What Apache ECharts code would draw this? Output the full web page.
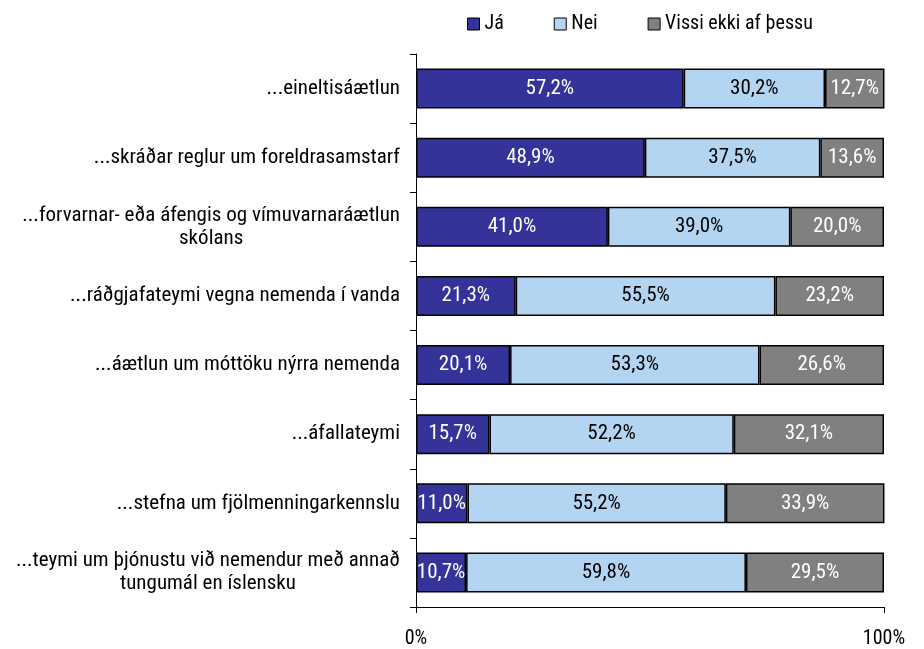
<!DOCTYPE html>
<html>
<head>
<meta charset="utf-8">
<script src="https://cdn.jsdelivr.net/npm/echarts@6/dist/echarts.min.js"></script>
<style>
  html, body { margin: 0; padding: 0; background: #fff; }
  #chart { width: 924px; height: 649px; }
</style>
</head>
<body>
<div id="chart"></div>
<script>
  // flokkar, efst til neðst
  const categories = [
    '...eineltisáætlun',
    '...skráðar reglur um foreldrasamstarf',
    '...forvarnar- eða áfengis og vímuvarnaráætlun\nskólans',
    '...ráðgjafateymi vegna nemenda í vanda',
    '...áætlun um móttöku nýrra nemenda',
    '...áfallateymi',
    '...stefna um fjölmenningarkennslu',
    '...teymi um þjónustu við nemendur með annað\ntungumál en íslensku'
  ]
  const ja = [57.2, 48.9, 41.0, 21.3, 20.1, 15.7, 11.0, 10.7]
  const nei = [30.2, 37.5, 39.0, 55.5, 53.3, 52.2, 55.2, 59.8]
  const vissiEkki = [12.7, 13.6, 20.0, 23.2, 26.6, 32.1, 33.9, 29.5]
  const seriesNames = ['Já', 'Nei', 'Vissi ekki af þessu']
  const colors = ['#333399', '#B4D5F2', '#808080']
  const labelColors = ['#fff', '#000', '#fff']

  const font = '"Liberation Sans Narrow", "Arial Narrow", "Roboto Condensed", "Liberation Sans", sans-serif'

  const chart = echarts.init(document.getElementById('chart'))

  const makeSeries = (i, data) => ({
    name: seriesNames[i],
    type: 'bar',
    stack: 'total',
    barWidth: 40,
    data: data,
    itemStyle: { color: colors[i], borderColor: '#000', borderWidth: 1.5 },
    label: {
      show: true,
      position: 'inside',
      color: labelColors[i],
      fontFamily: font,
      fontSize: 21,
      formatter: p => p.value.toFixed(1).replace('.', ',') + '%'
    }
  })

  const option = {
    animation: false,
    textStyle: { fontFamily: font },
    legend: {
      top: 9,
      left: 462,
      itemWidth: 12,
      itemHeight: 12,
      itemGap: 50,
      textStyle: { fontSize: 20, color: '#000', fontFamily: font },
      data: seriesNames.map((n, i) => ({
        name: n,
        icon: 'rect',
        itemStyle: { color: colors[i], borderColor: '#000', borderWidth: 1 }
      }))
    },
    grid: { left: 416, right: 40, top: 54, bottom: 38, containLabel: false },
    xAxis: {
      type: 'value',
      min: 0,
      max: 100,
      interval: 100,
      splitLine: { show: false },
      axisLine: { show: true, lineStyle: { color: '#000', width: 1 } },
      axisTick: { show: true, length: 6, lineStyle: { color: '#000' } },
      axisLabel: { formatter: '{value}%', fontSize: 20, color: '#000', margin: 22, fontFamily: font }
    },
    yAxis: {
      type: 'category',
      inverse: true,
      data: categories,
      axisLine: { show: true, lineStyle: { color: '#000', width: 1 } },
      axisTick: { show: true, length: 6, lineStyle: { color: '#000' } },
      axisLabel: {
        fontSize: 21,
        color: '#000',
        margin: 16,
        lineHeight: 23,
        fontFamily: font,
        formatter: v => v.split('\n').map(l => '{c|' + l + '}').join('\n'),
        rich: { c: { align: 'center', fontSize: 21, lineHeight: 23, fontFamily: font, color: '#000' } }
      }
    },
    series: [makeSeries(0, ja), makeSeries(1, nei), makeSeries(2, vissiEkki)]
  }
  option && chart.setOption(option)
</script>
</body>
</html>
